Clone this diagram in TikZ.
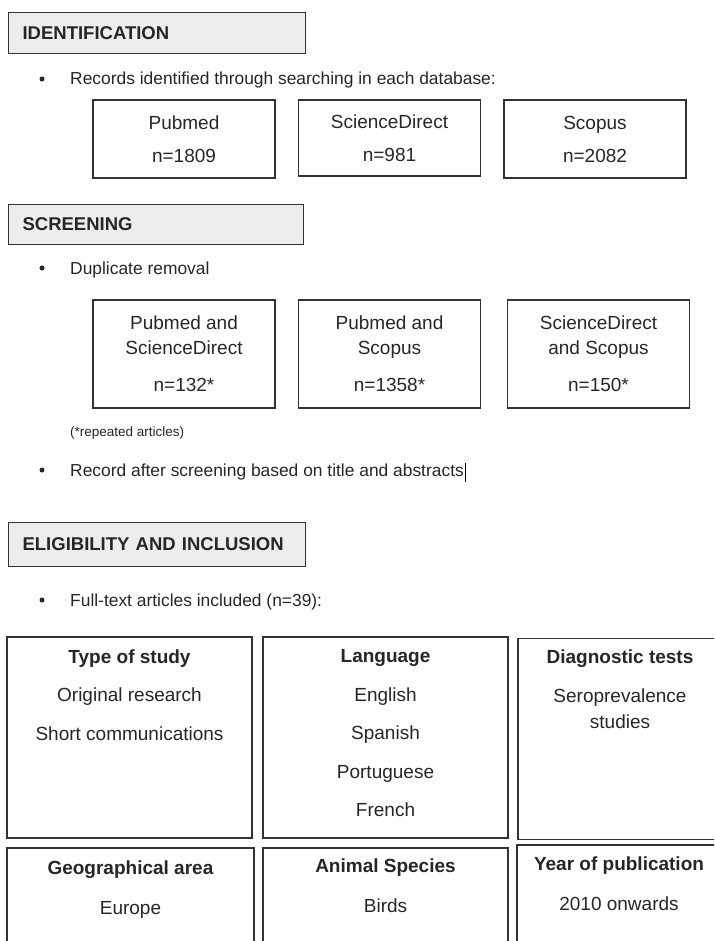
\documentclass[tikz,border=0pt]{standalone}
\usepackage{fontspec}
\setmainfont{Liberation Sans}
\usetikzlibrary{positioning}

\begin{document}
\begin{tikzpicture}[x=1pt,y=1pt]
    \tikzstyle{every node}+=[inner sep=0pt, text=black!85]
    \tikzstyle{header}=[draw=black!80, line width=1.2pt, fill=black!7, anchor=north west, minimum height=41pt, text width=269pt, inner xsep=14pt, align=left, font=\fontsize{18.5}{22}\selectfont\bfseries]
    \tikzstyle{bullettext}=[anchor=base west, font=\fontsize{17.4}{21}\selectfont]
    \tikzstyle{bulletdot}=[circle, fill=black!85, minimum size=5pt]
    \tikzstyle{dbbox}=[draw=black!80, line width=1.2pt, align=center, minimum width=182pt, font=\fontsize{19}{25}\selectfont]
    \tikzstyle{gridbox}=[draw=black!80, line width=1.5pt, minimum width=245pt, minimum height=201pt]
    \tikzstyle{gridtext}=[align=center, font=\fontsize{19}{38.5}\selectfont]
    \path [use as bounding box, clip] (0,0) rectangle (714,-941);
    \node [header] (ident) at (8,-12) {IDENTIFICATION};
    \node [bulletdot] (dotrecords) at (42,-79) {};
    \node [bullettext] (records) at (70,-85) {Records identified through searching in each database:};
    \node [dbbox, minimum height=78pt, font=\fontsize{19}{33}\selectfont] (pubmed) at (184,-139) {Pubmed\\n=1809};
    \node [dbbox, minimum height=76pt, font=\fontsize{19}{33}\selectfont] (scidirect) at (389.5,-138) {ScienceDirect\\n=981};
    \node [dbbox, minimum height=78pt, font=\fontsize{19}{33}\selectfont] (scopus) at (595,-139) {Scopus\\n=2082};
    \node [header, minimum height=40pt, text width=267pt] (screen) at (8,-204) {SCREENING};
    \node [bulletdot] (dotduplicate) at (42,-268) {};
    \node [bullettext] (duplicate) at (70,-274) {Duplicate removal};
    \node [dbbox, minimum height=108pt] (pubsci) at (184,-354) {Pubmed and\\ScienceDirect\\[12pt]n=132*};
    \node [dbbox, minimum height=108pt] (pubscop) at (389.5,-354) {Pubmed and\\Scopus\\[12pt]n=1358*};
    \node [dbbox, minimum height=108pt] (sciscop) at (598.5,-354) {ScienceDirect\\and Scopus\\[12pt]n=150*};
    \node [bullettext, font=\fontsize{13.5}{16}\selectfont] (repeated) at (70,-436) {(*repeated articles)};
    \node [bulletdot] (dotrecscreen) at (42,-470) {};
    \node [bullettext] (recscreen) at (70,-476) {Record after screening based on title and abstracts};
    \draw [black, line width=0.8pt] ([xshift=1.5pt,yshift=-6pt]recscreen.base east) -- ++(0,19);
    \node [header, minimum height=44pt] (elig) at (8,-522) {ELIGIBILITY AND INCLUSION};
    \node [bulletdot] (dotfulltext) at (42,-600) {};
    \node [bullettext] (fulltext) at (70,-606) {Full-text articles included (n=39):};
    \node [gridbox] (study) at (129.5,-737.5) {};
    \node [gridtext, below=13pt of study.north] (studytext) {\textbf{Type of study}\\Original research\\Short communications};
    \node [gridbox] (lang) at (385.5,-737.5) {};
    \node [gridtext, below=13pt of lang.north] (langtext) {\textbf{Language}\\English\\Spanish\\Portuguese\\French};
    \node [gridbox, minimum width=204pt] (diag) at (620,-739) {};
    \node [gridtext, below=12pt of diag.north] (diagtext) {\textbf{Diagnostic tests}\\Seroprevalence\\[-12.5pt]studies};
    \node [gridbox, minimum width=247pt, minimum height=202pt] (geo) at (130.5,-949) {};
    \node [gridtext, below=13pt of geo.north] (geotext) {\textbf{Geographical area}\\[1.5pt]Europe};
    \node [gridbox, minimum height=202pt] (species) at (385.5,-949) {};
    \node [gridtext, below=11pt of species.north] (speciestext) {\textbf{Animal Species}\\[1.5pt]Birds};
    \node [gridbox, minimum width=204pt, minimum height=202pt] (year) at (619,-946) {};
    \node [gridtext, below=12pt of year.north] (yeartext) {\textbf{Year of publication}\\[1.5pt]2010 onwards};
\end{tikzpicture}
\end{document}
